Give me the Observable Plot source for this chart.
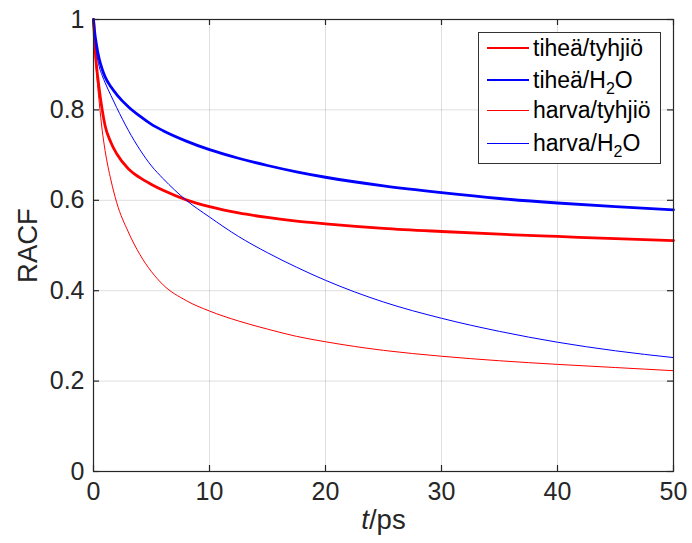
<!DOCTYPE html>
<html>
<head>
<meta charset="utf-8">
<script src="https://cdn.jsdelivr.net/npm/d3@7"></script>
<script src="https://cdn.jsdelivr.net/npm/@observablehq/plot@0.6"></script>
<style>
  body { margin: 0; background: #fff; }
  #wrap { position: relative; width: 692px; height: 543px; font-family: "Liberation Sans", Arial, Helvetica, sans-serif; }
  #legend { position: absolute; left: 478px; top: 32px; width: 181px; height: 130px; border: 1px solid #333; background: #fff; }
  .row { position: absolute; left: 0; height: 30px; display: flex; align-items: center; }
  .sw { width: 42px; margin-left: 8px; margin-right: 4px; flex: none; }
  .lab { font-size: 23px; color: #000; line-height: 26px; white-space: nowrap; }
  .lab sub { font-size: 16px; vertical-align: -6px; line-height: 0; }
</style>
</head>
<body>
<div id="wrap"></div>
<script>
// time points (ps)
const times = [0, 0.1, 0.25, 0.5, 0.75, 1, 1.5, 2, 3, 4, 5, 6, 8, 10, 12.5, 15, 17.5, 20, 25, 30, 35, 40, 45, 50];
// series values (RACF)
const tiheaTyhjio = [1.0, 0.95, 0.9, 0.845, 0.80, 0.765, 0.728, 0.703, 0.67, 0.65, 0.635, 0.622, 0.601, 0.586, 0.572, 0.562, 0.554, 0.548, 0.538, 0.531, 0.525, 0.520, 0.515, 0.511];
const tiheaH2O    = [1.0, 0.972, 0.945, 0.912, 0.89, 0.873, 0.851, 0.834, 0.807, 0.786, 0.768, 0.754, 0.731, 0.712, 0.693, 0.677, 0.663, 0.651, 0.632, 0.617, 0.604, 0.594, 0.586, 0.579];
const harvaTyhjio = [1.0, 0.94, 0.885, 0.815, 0.755, 0.71, 0.645, 0.595, 0.53, 0.48, 0.442, 0.413, 0.378, 0.355, 0.333, 0.315, 0.299, 0.287, 0.268, 0.255, 0.245, 0.237, 0.23, 0.223];
const harvaH2O    = [1.0, 0.962, 0.93, 0.895, 0.876, 0.86, 0.832, 0.805, 0.755, 0.712, 0.676, 0.648, 0.600, 0.563, 0.520, 0.484, 0.452, 0.423, 0.375, 0.339, 0.310, 0.286, 0.267, 0.252];
const seriesNames = ["tiheä/tyhjiö", "tiheä/H₂O", "harva/tyhjiö", "harva/H₂O"];
const xTicks = [0, 10, 20, 30, 40, 50];
const yTicks = [0, 0.2, 0.4, 0.6, 0.8, 1];

const seriesValues = [tiheaTyhjio, tiheaH2O, harvaTyhjio, harvaH2O];
const colors = ["#ff0000", "#0000ff", "#ff0000", "#0000ff"];
const widths = [2.8, 2.8, 1, 1];

const data = seriesValues.map((vals, i) => times.map((t, j) => ({t, v: vals[j], s: seriesNames[i]})));

const axisColor = "#262626";
const W = 692, H = 543, mL = 93, mR = 19, mT = 19, mB = 72;
const plotW = W - mL - mR, plotH = H - mT - mB, tickLen = 6;

const chart = Plot.plot({
  width: W,
  height: H,
  marginLeft: mL, marginRight: mR, marginTop: mT, marginBottom: mB,
  style: {fontFamily: "'Liberation Sans', Arial, Helvetica, sans-serif", fontSize: "25px", color: axisColor, background: "#fff", overflow: "visible"},
  x: {domain: [0, 50]},
  y: {domain: [0, 1]},
  marks: [
    Plot.gridX(xTicks, {stroke: axisColor, strokeOpacity: 0.15}),
    Plot.gridY(yTicks, {stroke: axisColor, strokeOpacity: 0.15}),
    ...data.map((d, i) => Plot.line(d, {x: "t", y: "v", stroke: colors[i], strokeWidth: widths[i], curve: "monotone-x"})),
    // inward tick marks on all four sides
    Plot.tickX(xTicks, {x: d => d, stroke: axisColor, strokeWidth: 1.2, insetTop: plotH - tickLen}),
    Plot.tickX(xTicks, {x: d => d, stroke: axisColor, strokeWidth: 1.2, insetBottom: plotH - tickLen}),
    Plot.tickY(yTicks, {y: d => d, stroke: axisColor, strokeWidth: 1.2, insetRight: plotW - tickLen}),
    Plot.tickY(yTicks, {y: d => d, stroke: axisColor, strokeWidth: 1.2, insetLeft: plotW - tickLen}),
    Plot.frame({stroke: axisColor, strokeWidth: 1.2}),
    Plot.axisX(xTicks, {anchor: "bottom", tickSize: 0, tickPadding: 11, tickFormat: d => String(d), fill: axisColor,
      label: "t/ps", labelAnchor: "center", labelArrow: "none", labelOffset: 57}),
    Plot.axisY(yTicks, {anchor: "left", tickSize: 0, tickPadding: 9, tickFormat: d => String(d), fill: axisColor,
      label: "RACF", labelAnchor: "center", labelArrow: "none", labelOffset: 76})
  ]
});
document.getElementById("wrap").appendChild(chart);

// style axis labels (italic t)
d3.select(chart).selectAll("text").each(function() {
  const t = d3.select(this);
  const s = t.text().trim();
  if (s === "t/ps") {
    t.text(null).attr("font-size", 27.5);
    t.append("tspan").attr("font-style", "italic").text("t");
    t.append("tspan").text("/ps");
  } else if (s === "RACF") {
    t.attr("font-size", 27.5);
  }
});

// legend (HTML overlay)
const legend = d3.select("#wrap").append("div").attr("id", "legend");
const rowTops = [0, 32, 62, 95];
seriesNames.forEach((name, i) => {
  const row = legend.append("div").attr("class", "row").style("top", rowTops[i] + "px");
  row.append("div").attr("class", "sw").style("border-top", `${widths[i]}px solid ${colors[i]}`);
  const lab = row.append("div").attr("class", "lab");
  if (name.includes("₂")) {
    const [a, b] = name.split("₂");
    lab.html(`${a}<sub>2</sub>${b}`);
  } else {
    lab.text(name);
  }
});
</script>
</body>
</html>
